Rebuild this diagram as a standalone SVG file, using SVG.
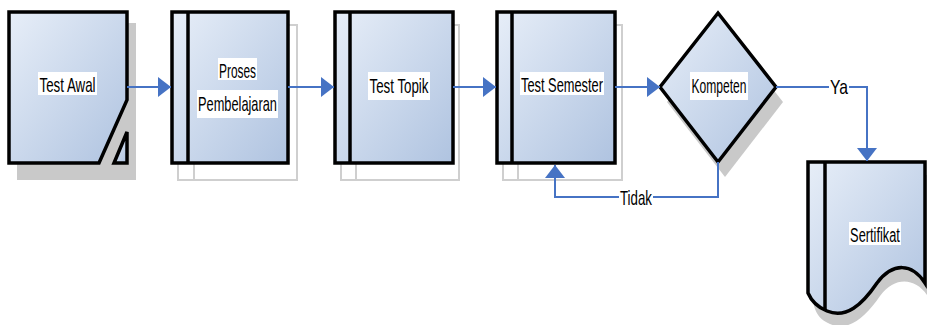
<svg xmlns="http://www.w3.org/2000/svg" width="927" height="325" viewBox="0 0 927 325">
  <defs>
    <linearGradient id="fillGrad" x1="0" y1="0" x2="1" y2="1">
      <stop offset="0" stop-color="#e7eef8"/>
      <stop offset="1" stop-color="#afc3e0"/>
    </linearGradient>
    <marker id="arrow" markerUnits="userSpaceOnUse" markerWidth="13" markerHeight="20" refX="13" refY="10" orient="auto">
      <path d="M0,0 L13,10 L0,20 Z" fill="#4673c4"/>
    </marker>
    <style>
      .shape { fill: url(#fillGrad); stroke: #000; stroke-width: 3.5; stroke-linejoin: miter; }
      .divider { fill: none; stroke: #000; stroke-width: 3.5; }
      .shadow { fill: #c9c9c9; stroke: none; }
      .stack { fill: #fff; stroke: #cfcfcf; stroke-width: 2; }
      .bg { fill: #fff; }
      .label { font-family: "Liberation Sans", Arial, sans-serif; font-size: 21px; fill: #000; text-anchor: middle; }
      .conn { fill: none; stroke: #4673c4; stroke-width: 2; }
    </style>
  </defs>

  <rect width="927" height="325" fill="#fff"/>

  <!-- Test Awal: card with cut corner -->
  <g id="test-awal">
    <rect class="shadow" x="17" y="23" width="119" height="157"/>
    <path class="shape" d="M9,12 H127 V100 L99,163 H9 Z"/>
    <path class="shape" d="M127,132 V163 H114 Z"/>
    <rect class="bg" x="38" y="72" width="59" height="23"/>
    <text class="label" x="67.5" y="92" textLength="56" lengthAdjust="spacingAndGlyphs">Test Awal</text>
  </g>

  <!-- Proses Pembelajaran -->
  <g id="proses-pembelajaran">
    <rect class="stack" x="178" y="25" width="119" height="155"/>
    <line class="stack" x1="194" y1="25" x2="194" y2="180"/>
    <rect class="shape" x="172" y="12" width="116" height="151"/>
    <line class="divider" x1="188" y1="12" x2="188" y2="163"/>
    <rect class="bg" x="218" y="58" width="39" height="22"/>
    <text class="label" x="237.5" y="78" textLength="37" lengthAdjust="spacingAndGlyphs">Proses</text>
    <rect class="bg" x="197" y="90" width="81" height="28"/>
    <text class="label" x="237.5" y="111" textLength="79" lengthAdjust="spacingAndGlyphs">Pembelajaran</text>
  </g>

  <!-- Test Topik -->
  <g id="test-topik">
    <rect class="stack" x="341" y="25" width="118" height="155"/>
    <line class="stack" x1="356" y1="25" x2="356" y2="180"/>
    <rect class="shape" x="335" y="12" width="118" height="151"/>
    <line class="divider" x1="350" y1="12" x2="350" y2="163"/>
    <rect class="bg" x="368" y="72" width="62" height="28"/>
    <text class="label" x="399" y="93" textLength="59" lengthAdjust="spacingAndGlyphs">Test Topik</text>
  </g>

  <!-- Test Semester -->
  <g id="test-semester">
    <rect class="stack" x="503" y="25" width="119" height="155"/>
    <line class="stack" x1="518" y1="25" x2="518" y2="180"/>
    <rect class="shape" x="497" y="12" width="118" height="151"/>
    <line class="divider" x1="512" y1="12" x2="512" y2="163"/>
    <rect class="bg" x="520" y="72" width="84" height="23"/>
    <text class="label" x="562" y="92" textLength="82" lengthAdjust="spacingAndGlyphs">Test Semester</text>
  </g>

  <!-- Kompeten decision -->
  <g id="kompeten">
    <path class="shadow" d="M725,28 L783,102 L725,177 L667,102 Z"/>
    <path class="shape" d="M718,13 L776,87 L718,162 L660,87 Z"/>
    <rect class="bg" x="690" y="72" width="58" height="28"/>
    <text class="label" x="719" y="93" textLength="55" lengthAdjust="spacingAndGlyphs">Kompeten</text>
  </g>

  <!-- Sertifikat document -->
  <g id="sertifikat">
    <path class="shadow" d="M814,175 H927 V295 C915,278 895,276 880,296 C865,318 848,332 830,324 C820,320 816,313 814,306 Z"/>
    <path class="shape" d="M808,162 H925 V283 C912,263 893,262 877,283 C862,305 846,319 827,311 C817,307 811,300 808,293 Z"/>
    <line class="divider" x1="825" y1="162" x2="825" y2="310"/>
    <rect class="bg" x="849" y="222" width="52" height="23"/>
    <text class="label" transform="translate(875,242) scale(0.61,1)" x="0" y="0">Sertifikat</text>
  </g>

  <!-- Connectors -->
  <g id="connectors">
    <path class="conn" d="M127,87 H171" marker-end="url(#arrow)"/>
    <path class="conn" d="M288,87 H334" marker-end="url(#arrow)"/>
    <path class="conn" d="M453,87 H496" marker-end="url(#arrow)"/>
    <path class="conn" d="M615,87 H660" marker-end="url(#arrow)"/>
    <path class="conn" d="M776,87 H867 V161" marker-end="url(#arrow)"/>
    <path class="conn" d="M718,162 V197 H555 V165" marker-end="url(#arrow)"/>
    <g id="label-ya">
      <rect class="bg" x="829" y="75" width="20" height="21"/>
      <text class="label" x="839" y="94" textLength="18" lengthAdjust="spacingAndGlyphs">Ya</text>
    </g>
    <g id="label-tidak">
      <rect class="bg" x="619" y="186" width="34" height="21"/>
      <text class="label" x="636" y="205" textLength="32" lengthAdjust="spacingAndGlyphs">Tidak</text>
    </g>
  </g>
</svg>
